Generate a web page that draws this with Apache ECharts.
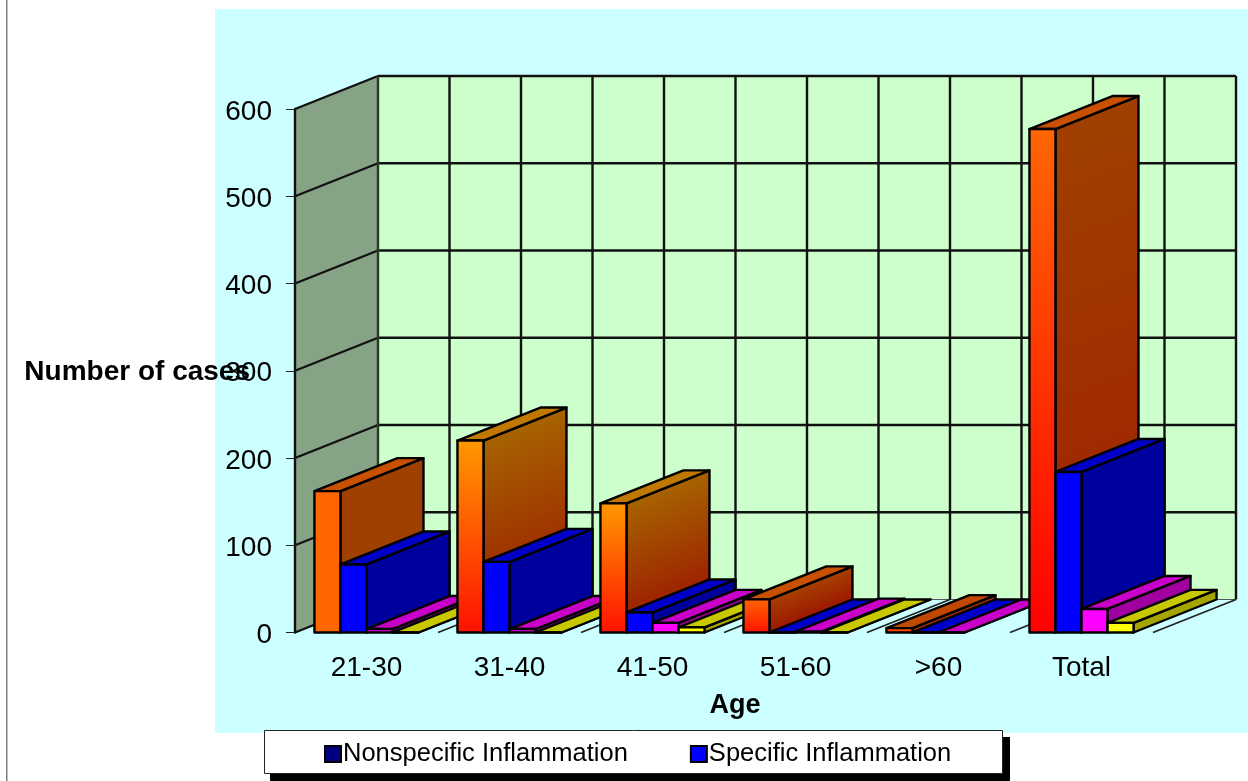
<!DOCTYPE html>
<html>
<head>
<meta charset="utf-8">
<style>html,body{margin:0;padding:0;background:#fff}#chart{width:1248px;height:781px}</style>
<script src="https://cdn.jsdelivr.net/npm/echarts@6/dist/echarts.min.js"></script>
</head>
<body>
<div id="chart"></div>
<script>
// Cases per age group
const ageGroups = ['21-30', '31-40', '41-50', '51-60', '>60', 'Total'];
const nonspecificCases = [162, 220, 148, 38, 5, 577];
const specificCases = [78, 81, 23, 0, 0, 184];
const thirdGroupCases = [4, 4, 11, 1, 0, 27];
const fourthGroupCases = [0, 0, 6, 0, null, 11];
const valueTicks = [0, 100, 200, 300, 400, 500, 600];

// Oblique projection of the box: how far the back plane is shifted from the front plane
const DEPTH_X = 83;
const DEPTH_Y = -33;
const BAR_SHARE = 0.182;
const FONT = '"Liberation Sans", Arial, sans-serif';
const EDGE = '#000';

// Front-face gradient of the first group's bars, top colour then bottom colour, per age group
const warmRamps = [
  ['#FF6600', '#FF6600'], ['#FF9900', '#FF1100'], ['#FF9900', '#FF1100'],
  ['#FF6600', '#FF1100'], ['#FF5500', '#FF3300'], ['#FF6600', '#FF0000']
];
const warmTops = ['#C85000', '#C07800', '#C07800', '#C85000', '#C04800', '#C85000'];
const warmSides = [
  ['#A04000', '#A04000'], ['#A66300', '#9C1800'], ['#A66300', '#9C1800'],
  ['#A64000', '#9C1800'], ['#A03000', '#A03000'], ['#A04000', '#A02000']
];

function flat(front, top, side) {
  return () => ({ front, top, side });
}
function warm(cat, yTop, yBottom, x) {
  const h = yBottom - yTop;
  const t = DEPTH_X * h / (DEPTH_X * DEPTH_X + DEPTH_Y * DEPTH_Y);
  return {
    front: new echarts.graphic.LinearGradient(0, 0, 0, 1, [
      { offset: 0, color: warmRamps[cat][0] }, { offset: 1, color: warmRamps[cat][1] }
    ]),
    top: warmTops[cat],
    side: new echarts.graphic.LinearGradient(
      x, yTop, x - DEPTH_Y * t, yTop + DEPTH_X * t,
      [{ offset: 0, color: warmSides[cat][0] }, { offset: 1, color: warmSides[cat][1] }],
      true
    )
  };
}

function face(points, fill, z2) {
  return {
    type: 'polygon',
    z2,
    shape: { points },
    style: { fill, stroke: EDGE, lineWidth: 2.4, lineJoin: 'round' }
  };
}

// One extruded bar; painted left to right so nearer bars cover the sides of earlier ones
function barRenderer(slot, paint) {
  return function (params, api) {
    const value = api.value(1);
    if (value == null || isNaN(value)) return null;
    const cat = api.value(0);
    const base = api.coord([cat, 0]);
    const tip = api.coord([cat, value]);
    const band = api.size([1, 0])[0];
    const w = band * BAR_SHARE;
    const x0 = base[0] + (slot - 2) * w;
    const x1 = x0 + w;
    const yB = base[1];
    const yT = tip[1];
    const look = paint(cat, yT, yB, x1);
    const order = 10 + cat * 10 + slot;
    return {
      type: 'group',
      children: [
        face([[x1, yB], [x1 + DEPTH_X, yB + DEPTH_Y], [x1 + DEPTH_X, yT + DEPTH_Y], [x1, yT]], look.side, order),
        face([[x0, yT], [x1, yT], [x1 + DEPTH_X, yT + DEPTH_Y], [x0 + DEPTH_X, yT + DEPTH_Y]], look.top, order),
        face([[x0, yB], [x1, yB], [x1, yT], [x0, yT]], look.front, order)
      ]
    };
  };
}

function segment(x1, y1, x2, y2, lineWidth, stroke) {
  return {
    type: 'line',
    z2: 1,
    shape: { x1, y1, x2, y2 },
    style: { stroke, lineWidth }
  };
}

// Side wall, back wall, their grid and the floor divisions
function renderWalls(params, api) {
  const band = api.size([1, 0])[0];
  const left = api.coord([0, 0])[0] - band / 2;
  const right = left + band * ageGroups.length;
  const y0 = api.coord([0, valueTicks[0]])[1];
  const yMax = api.coord([0, valueTicks[valueTicks.length - 1]])[1];
  const children = [
    {
      type: 'polygon', z2: 0,
      shape: { points: [[left, y0], [left + DEPTH_X, y0 + DEPTH_Y], [left + DEPTH_X, yMax + DEPTH_Y], [left, yMax]] },
      style: { fill: '#87A385' }
    },
    {
      type: 'polygon', z2: 0,
      shape: { points: [[left + DEPTH_X, y0 + DEPTH_Y], [right + DEPTH_X, y0 + DEPTH_Y], [right + DEPTH_X, yMax + DEPTH_Y], [left + DEPTH_X, yMax + DEPTH_Y]] },
      style: { fill: '#CCFFCC' }
    }
  ];
  valueTicks.forEach((tick, i) => {
    const y = api.coord([0, tick])[1];
    const backX = right + DEPTH_X;
    children.push(segment(left, y, left + DEPTH_X, y + DEPTH_Y, 2.4, '#111'));
    children.push(segment(left + DEPTH_X, y + DEPTH_Y, backX, y + DEPTH_Y, i === 0 ? 1 : 2.4, i === 0 ? '#556' : '#111'));
  });
  for (let i = 0; i <= ageGroups.length * 2; i++) {
    const x = left + DEPTH_X + i * band / 2;
    children.push(segment(x, y0 + DEPTH_Y, x, yMax + DEPTH_Y, 2.4, i === 0 ? '#2a3a2a' : '#111'));
  }
  for (let i = 1; i <= ageGroups.length; i++) {
    const x = left + i * band;
    children.push(segment(x, y0, x + DEPTH_X, y0 + DEPTH_Y, 1.8, '#222'));
  }
  return { type: 'group', children };
}

function barSeries(name, values, slot, paint) {
  return {
    type: 'custom',
    name,
    data: values.map((v, i) => [i, v]),
    encode: { x: 0, y: 1 },
    renderItem: barRenderer(slot, paint),
    silent: true,
    animation: false
  };
}

const chart = echarts.init(document.getElementById('chart'), null, { renderer: 'canvas' });
chart.setOption({
  animation: false,
  backgroundColor: '#fff',
  textStyle: { fontFamily: FONT },
  graphic: [
    { type: 'rect', z: -10, shape: { x: 215, y: 9, width: 1033, height: 724 }, style: { fill: '#CCFFFF' } },
    { type: 'rect', z: -10, shape: { x: 6, y: 0, width: 1.5, height: 781 }, style: { fill: '#808080' } },
    // Legend panel and its hard drop shadow
    { type: 'rect', z: 3, shape: { x: 270, y: 737, width: 740, height: 44 }, style: { fill: '#000' } },
    { type: 'rect', z: 3, shape: { x: 264.5, y: 730.5, width: 738, height: 43 }, style: { fill: '#fff', stroke: '#222', lineWidth: 1 } }
  ],
  grid: { left: 295, right: 95, top: 109, bottom: 148.5 },
  xAxis: {
    type: 'category',
    data: ageGroups,
    name: 'Age',
    nameLocation: 'middle',
    nameGap: 60,
    nameTextStyle: { fontFamily: FONT, fontSize: 27, fontWeight: 'bold', color: '#000', padding: [0, 0, 0, 22] },
    axisLine: { show: false },
    axisTick: { show: false },
    axisLabel: { fontFamily: FONT, fontSize: 28, color: '#000', margin: 22 }
  },
  yAxis: {
    type: 'value',
    min: 0,
    max: 600,
    interval: 100,
    z: 5,
    name: 'Number of cases',
    nameLocation: 'middle',
    nameRotate: 0,
    nameGap: 45,
    nameMoveOverlap: false,
    nameTextStyle: { fontFamily: FONT, fontSize: 28, fontWeight: 'bold', color: '#000', verticalAlign: 'top', padding: [-12, 0, 0, 0] },
    axisLine: { show: true, lineStyle: { color: '#111', width: 2.4 } },
    axisTick: { show: true, length: 9, lineStyle: { color: '#222', width: 1 } },
    axisLabel: { fontFamily: FONT, fontSize: 28, color: '#000', margin: 23, verticalAlign: 'top', padding: [-11, 0, 0, 0] },
    splitLine: { show: false }
  },
  legend: {
    show: true,
    left: 264,
    top: 734,
    orient: 'horizontal',
    selectedMode: false,
    padding: [7, 52, 7, 60],
    itemGap: 62,
    itemWidth: 16,
    itemHeight: 16,
    icon: 'rect',
    textStyle: { fontFamily: FONT, fontSize: 25.5, color: '#000', padding: [0, 0, 0, -3] },
    data: [
      { name: 'Nonspecific Inflammation', itemStyle: { color: '#000080', borderColor: '#000', borderWidth: 2 } },
      { name: 'Specific Inflammation', itemStyle: { color: '#0000FF', borderColor: '#000', borderWidth: 2 } }
    ]
  },
  series: [
    {
      type: 'custom',
      name: 'walls',
      data: [[0, 0]],
      encode: { x: 0, y: 1 },
      renderItem: renderWalls,
      silent: true,
      animation: false
    },
    barSeries('Nonspecific Inflammation', nonspecificCases, 0, warm),
    barSeries('Specific Inflammation', specificCases, 1, flat('#0000FF', '#0000C8', '#00009C')),
    barSeries('Third group', thirdGroupCases, 2, flat('#FF00FF', '#C800C8', '#A000A0')),
    barSeries('Fourth group', fourthGroupCases, 3, flat('#FFFF00', '#C8C800', '#A5A500'))
  ]
});
</script>
</body>
</html>
